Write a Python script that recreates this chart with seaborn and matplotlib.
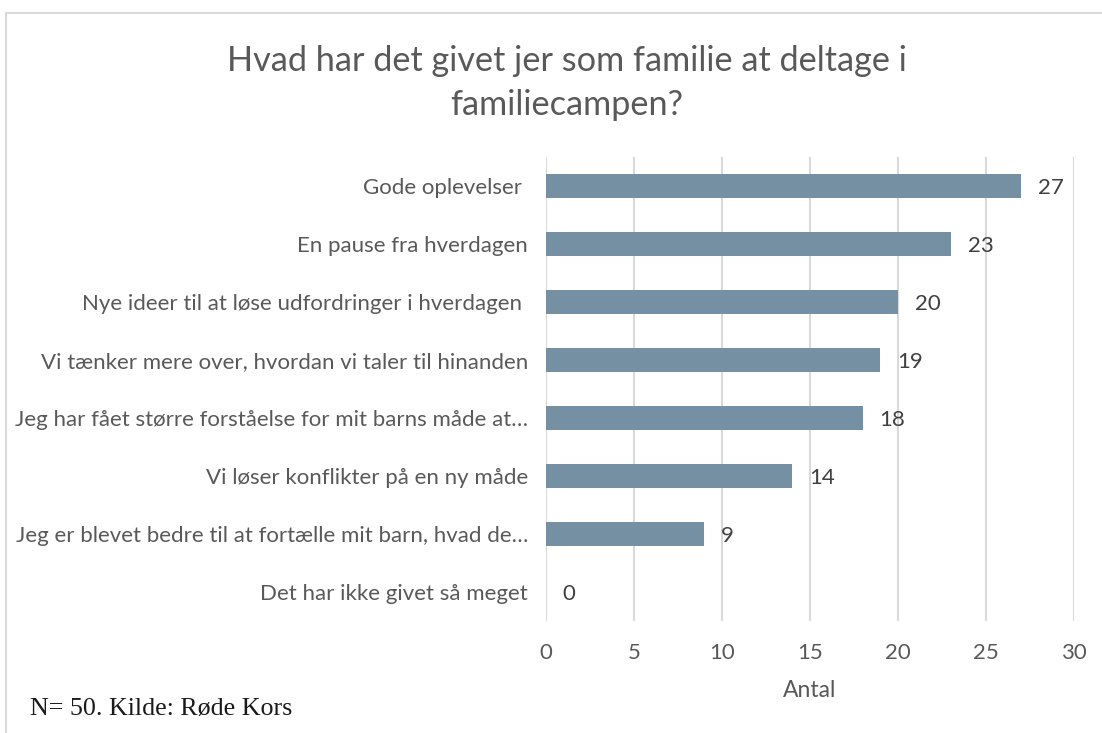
import matplotlib
matplotlib.use("Agg")
import matplotlib.pyplot as plt
import seaborn as sns
import pandas as pd
from matplotlib.patches import Rectangle

categories = [
    "Gode oplevelser ",
    "En pause fra hverdagen",
    "Nye ideer til at løse udfordringer i hverdagen ",
    "Vi tænker mere over, hvordan vi taler til hinanden",
    "Jeg har fået større forståelse for mit barns måde at…",
    "Vi løser konflikter på en ny måde",
    "Jeg er blevet bedre til at fortælle mit barn, hvad de…",
    "Det har ikke givet så meget",
]
values = [27, 23, 20, 19, 18, 14, 9, 0]
xticks = [0, 5, 10, 15, 20, 25, 30]

title = "Hvad har det givet jer som familie at deltage i\nfamiliecampen?"
xlabel = "Antal"
caption = "N= 50. Kilde: Røde Kors"

sns.set_theme(style="white")
plt.rcParams["font.family"] = ["Lato", "DejaVu Sans"]

W, H = 1102, 733
fig = plt.figure(figsize=(W / 100, H / 100), dpi=100)
fig.patch.set_facecolor("white")

# outer chart frame (cut by image edges)
fig.patches.append(Rectangle((6 / W, -0.05), 1.2, 1 - 13 / H + 0.05,
                             transform=fig.transFigure, fill=False,
                             edgecolor="#D9D9D9", linewidth=1.5))

ax = fig.add_axes([546 / W, 1 - 621 / H, (1074 - 546) / W, (621 - 157) / H])
df = pd.DataFrame({"cat": categories, "val": values})
sns.barplot(data=df, x="val", y="cat", orient="h", color="#7590A3",
            saturation=1, width=0.4, linewidth=0, ax=ax)

ax.set_xlim(0, 30)
ax.set_xticks(xticks)
ax.xaxis.grid(True, color="#D9D9D9", linewidth=1.5)
ax.set_axisbelow(True)
for s in ax.spines.values():
    s.set_visible(False)
ax.tick_params(axis="both", length=0, colors="#595959")
ax.tick_params(axis="y", labelsize=16, pad=13)
ax.tick_params(axis="x", labelsize=16, pad=16)
ax.set_ylabel("")
ax.set_xlabel(xlabel, fontsize=16.5, color="#595959", labelpad=12)

for i, v in enumerate(values):
    ax.text(v + 0.95, i + 0.03, str(v), va="center", ha="left", fontsize=16,
            color="#404040")

fig.text(567 / W, 1 - 83 / H, title, ha="center", va="center",
         fontsize=24.7, color="#595959", linespacing=1.45)

fig.text(30 / W, 1 - 709 / H, caption, ha="left", va="center",
         fontsize=18.7, color="#1a1a1a", family=["Liberation Serif", "DejaVu Serif"])

fig.savefig("out.png", dpi=100, facecolor="white")
